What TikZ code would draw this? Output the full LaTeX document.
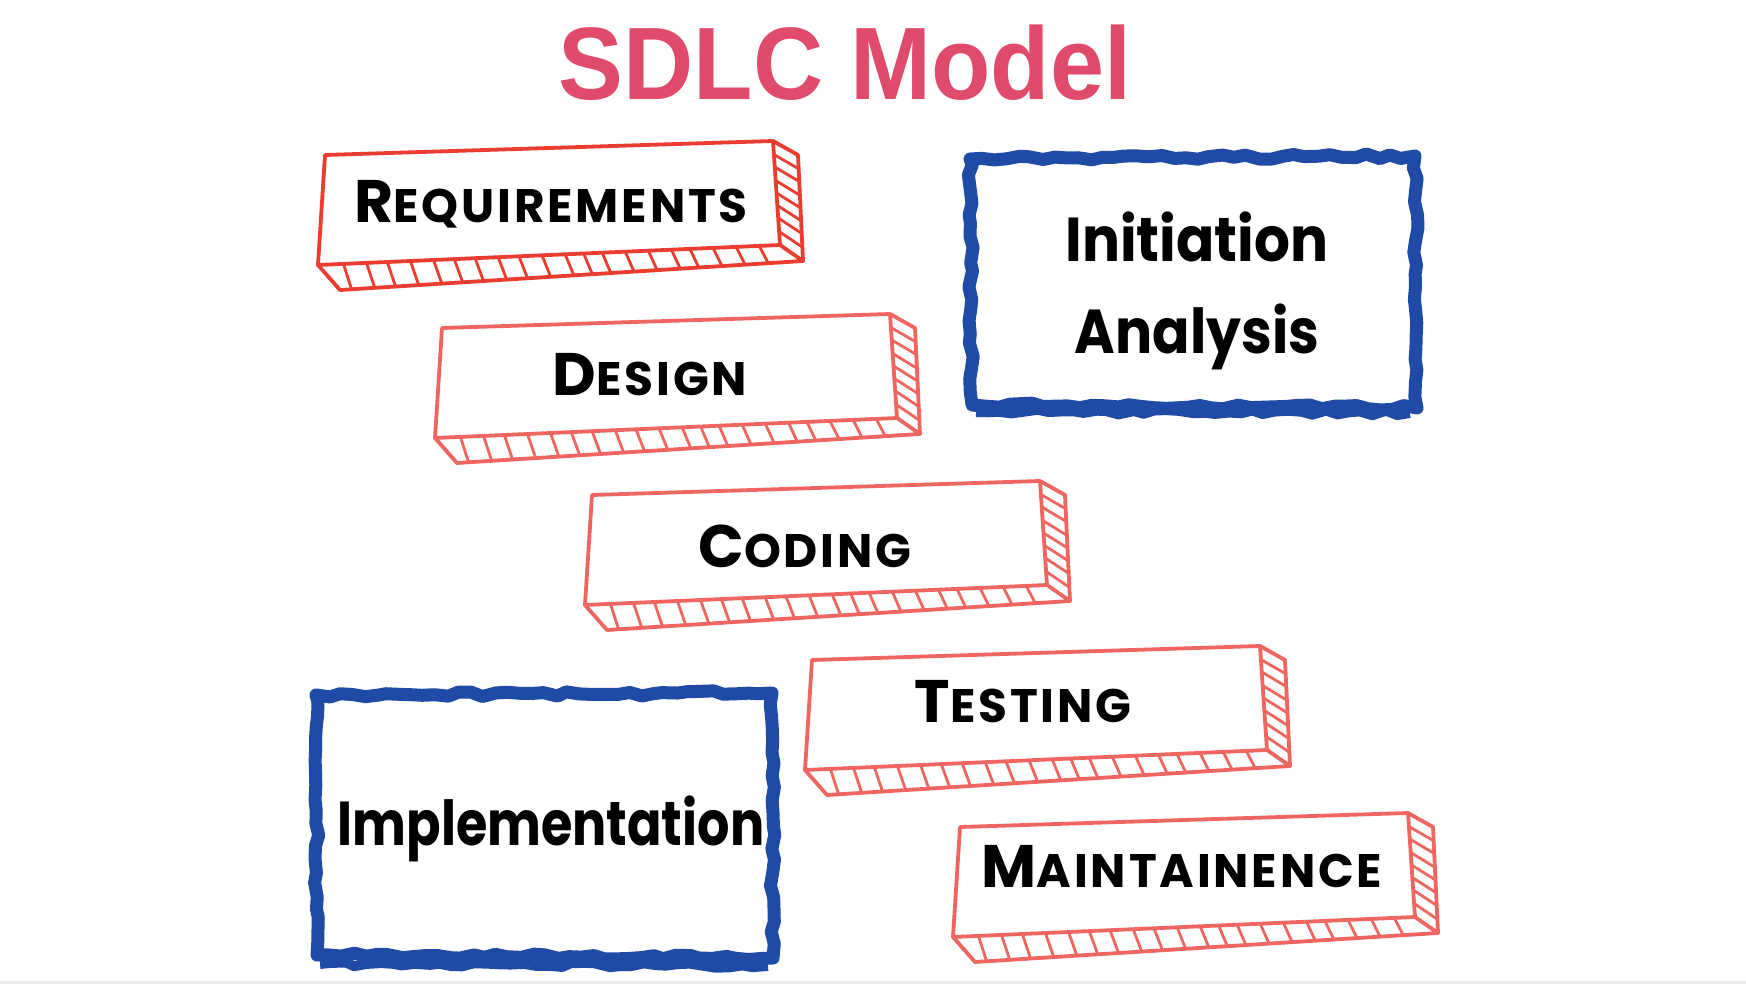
\documentclass[tikz,border=0pt]{standalone}
\usepackage{fontspec}
\usetikzlibrary{calc,decorations.pathmorphing}
\newfontfamily\titlefont{Liberation Sans}
\newfontfamily\popfont{Poppins}
\newfontfamily\labfont{Poppins}[LetterSpace=6]
\definecolor{titlered}{RGB}{224,75,108}
\definecolor{boxred}{RGB}{235,60,48}
\definecolor{boxsalmon}{RGB}{238,102,95}
\definecolor{roughblue}{RGB}{31,74,166}
\newcommand{\sclabel}[2]{{\fontsize{60}{60}\selectfont #1}{\fontsize{47}{47}\selectfont #2}}
\tikzset{
  boxline/.style={line width=3.8pt, line join=round, line cap=round},
  hatch/.style={line width=2.8pt, line cap=round},
  lab/.style={anchor=base, inner sep=0pt, font=\labfont\bfseries},
  bluetext/.style={anchor=base, inner sep=0pt, font=\popfont\bfseries\fontsize{62}{62}\selectfont},
  rough/.style={draw=roughblue, line width=13pt, line join=round, decorate,
    decoration={random steps, segment length=12pt, amplitude=2.4pt}},
}
\newcommand{\stepbox}[4]{%
\begin{scope}[shift={(#2,#3)}]
  \coordinate (#1-a) at (0,0);
  \coordinate (#1-b) at (448,-14);
  \coordinate (#1-c) at (455,90);
  \coordinate (#1-d) at (-7,110);
  \coordinate (#1-e) at (15,135);
  \coordinate (#1-f) at (478,106);
  \coordinate (#1-g) at (473,0);
\end{scope}
  \foreach \t in {0.055,0.105,0.15,0.2,0.25,0.295,0.34,0.39,0.435,0.485,0.535,0.575,0.615,0.665,0.715,0.765,0.805,0.855,0.905,0.955}
    {\draw[hatch,#4] ($(#1-d)!\t!(#1-c)$) -- ($(#1-e)!\t-0.03!(#1-f)$);}
  \foreach \t in {0.13,0.25,0.38,0.5,0.62,0.74,0.87}
    {\draw[hatch,#4] ($(#1-b)!\t!(#1-c)$) -- ($(#1-g)!\t!(#1-f)$);}
  \draw[boxline,#4] (#1-a) -- (#1-b) -- (#1-c) -- (#1-d) -- cycle;
  \draw[boxline,#4] (#1-d) -- (#1-e) -- (#1-f) -- (#1-c);
  \draw[boxline,#4] (#1-b) -- (#1-g) -- (#1-f);
}
\begin{document}
\begin{tikzpicture}[x=1pt,y=-1pt]
\pgfmathsetseed{7}
\fill[white] (0,0) rectangle (1746,984);
\path[use as bounding box] (0,0) rectangle (1746,984);
\fill[gray!15] (0,981) rectangle (1746,984);

\node[anchor=base, inner sep=0pt, text=titlered, font=\titlefont\bfseries\fontsize{103}{103}\selectfont] (title) at (845,100) {\scalebox{0.944}[1]{SDLC Model}};

\stepbox{req}{325}{155}{boxred}
\stepbox{des}{442}{328}{boxsalmon}
\stepbox{cod}{592}{495}{boxsalmon}
\stepbox{tes}{812}{660}{boxsalmon}
\stepbox{mai}{960}{827}{boxsalmon}

\node[lab] (reqt) at (551,223) {\sclabel{R}{EQUIREMENTS}};
\node[lab] (dest) at (650,395) {\sclabel{D}{ESIGN}};
\node[lab] (codt) at (805,567) {\sclabel{C}{ODING}};
\node[lab] (test) at (1023,722) {\sclabel{T}{ESTING}};
\node[lab] (mait) at (1182,887) {\sclabel{M}{AINTAINENCE}};

% rough blue frames
\draw[rough] (970,159) -- (1415,156) -- (1417,408) -- (972,405) -- cycle;
\draw[rough, line width=8pt] (976,413) -- (1410,414);
\draw[rough] (316,695) -- (772,693) -- (773,958) -- (317,955) -- cycle;
\draw[rough, line width=10pt] (320,964) -- (768,966);

\node[bluetext] (init) at (1197,262) {\scalebox{0.91}[1]{Initiation}};
\node[bluetext] (anal) at (1197,353) {\scalebox{0.89}[1]{Analysis}};
\node[bluetext] (impl) at (551,845) {\scalebox{0.82}[1]{Implementation}};
\end{tikzpicture}
\end{document}
